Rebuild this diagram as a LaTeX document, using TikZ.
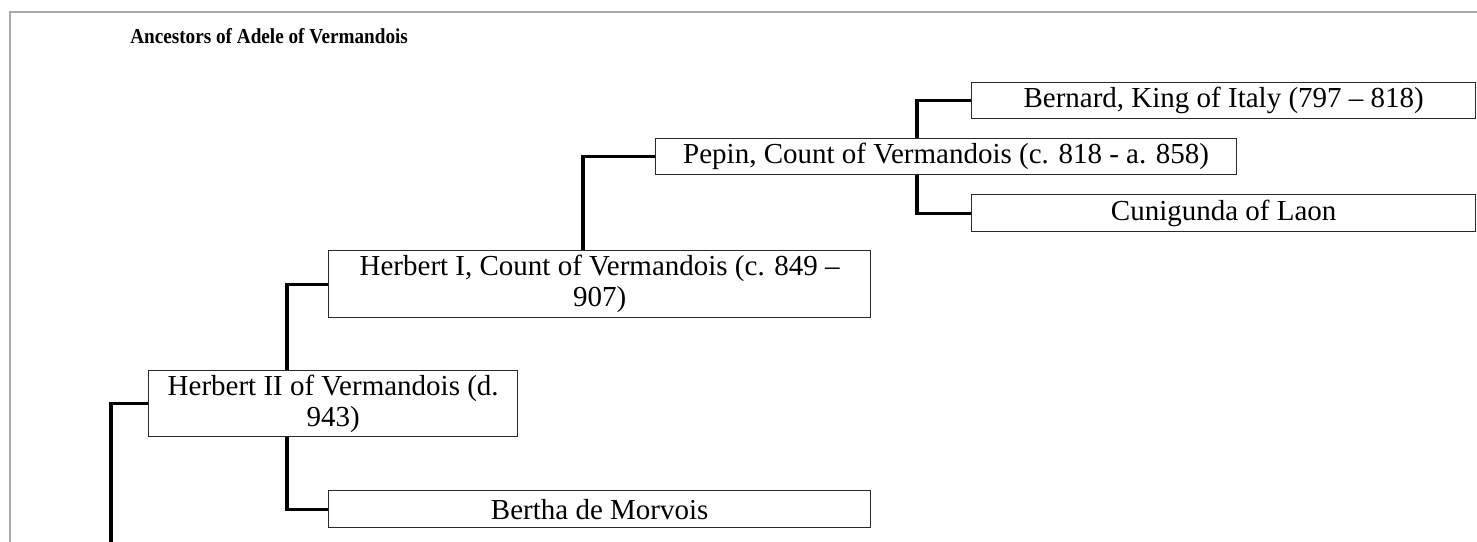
\documentclass[tikz,border=0pt]{standalone}
\usepackage{fontspec}
\usepackage{graphicx}
\setmainfont{Liberation Serif}
\usetikzlibrary{positioning}

\tikzset{
  person/.style={draw={rgb, 255:red, 40; green, 40; blue, 40 }, line width=1pt, fill=white,
    anchor=north west, inner sep=0pt, align=center,
    font=\fontsize{21.75}{23.5}\selectfont},
  link/.style={line width=2.5pt, line join=miter},
  frame/.style={draw={rgb, 255:red, 170; green, 170; blue, 170 }, line width=1.2pt},
}

\begin{document}
\begin{tikzpicture}[x=0.75pt,y=0.75pt,yscale=-1,xscale=1]
\useasboundingbox (0,0) rectangle (1477,542);

%Frame
\draw [frame] (1477,12) -- (10,12) -- (10,542);

% Text Node
\node [anchor=base west, inner sep=0pt, font=\bfseries\fontsize{16}{19}\selectfont] (title) at (130,44) {\scalebox{0.9}[1]{Ancestors of Adele of Vermandois}};

%Shape: Rectangle
\node [person, minimum width=276.75pt, minimum height=49.5pt] (herbertII) at (148,370) {Herbert II of Vermandois (d.\\943)};
%Shape: Rectangle
\node [person, minimum width=406.5pt, minimum height=50.25pt] (herbertI) at (328,250) {Herbert I, Count of Vermandois (c. 849 --\\907)};
%Shape: Rectangle
\node [person, minimum width=406.5pt, minimum height=27.75pt] (bertha) at (328,490) {Bertha de Morvois};
%Shape: Rectangle
\node [person, minimum width=435.75pt, minimum height=27pt] (pepin) at (655,138) {Pepin, Count of Vermandois (c. 818 - a. 858)};
%Shape: Rectangle
\node [person, minimum width=378pt, minimum height=27pt] (bernard) at (971,82) {Bernard, King of Italy (797 -- 818)};
%Shape: Rectangle
\node [person, minimum width=378pt, minimum height=27.75pt] (cunigunda) at (971,194) {Cunigunda of Laon};

%Forks
\coordinate (forkA) at (111,542);
\coordinate (forkB) at (287,0);
\coordinate (forkC) at (583,0);
\coordinate (forkD) at (917,0);

%Lines
\draw [link] (herbertII.west) -| (forkA);
\draw [link] (herbertII.north -| forkB) |- (herbertI.west);
\draw [link] (herbertII.south -| forkB) |- (bertha.west);
\draw [link] (herbertI.north -| forkC) |- (pepin.west);
\draw [link] (pepin.north -| forkD) |- (bernard.west);
\draw [link] (pepin.south -| forkD) |- (cunigunda.west);

\end{tikzpicture}
\end{document}
